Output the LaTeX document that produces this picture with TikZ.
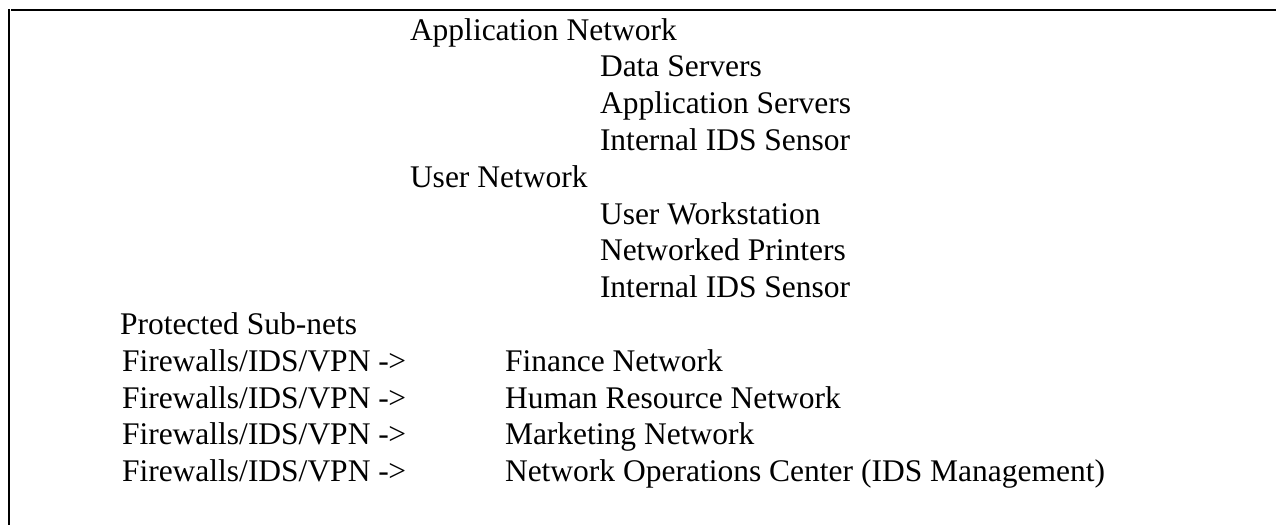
\documentclass[tikz,border=0pt]{standalone}
\usepackage{fontspec}
\setmainfont{Liberation Serif}
\begin{document}
\begin{tikzpicture}[x=1pt,y=-1pt,
  txt/.style={anchor=base west,inner sep=0pt,outer sep=0pt,font=\fontsize{31.5}{36.8}\selectfont},
  frame/.style={line width=2pt,black}]
\useasboundingbox (0,0) rectangle (1276,525);
\fill[white] (0,0) rectangle (1276,525);
% frame (left and top only)
\coordinate (lt) at (9,9);
\coordinate (lb) at (9,525);
\coordinate (tl) at (11,10);
\coordinate (tr) at (1276,10);
\draw[frame] (lt) -- (lb);
\draw[frame] (tl) -- (tr);
% text rows
\node[txt] (appnet) at (410,40) {Application Network};
\node[txt] (data) at (600,76.8) {Data Servers};
\node[txt] (appsrv) at (600,113.6) {Application Servers};
\node[txt] (ids1) at (600,150.4) {Internal IDS Sensor};
\node[txt] (usernet) at (410,187.2) {User Network};
\node[txt] (uws) at (600,224) {User Workstation};
\node[txt] (prn) at (600,260.8) {Networked Printers};
\node[txt] (ids2) at (600,297.6) {Internal IDS Sensor};
\node[txt] (prot) at (120,334.4) {Protected Sub-nets};
\node[txt] (fw1) at (122,371.2) {Firewalls/IDS/VPN -\kern-0.5pt>};
\node[txt] (fin) at (505,371.2) {Finance Network};
\node[txt] (fw2) at (122,408) {Firewalls/IDS/VPN -\kern-0.5pt>};
\node[txt] (hr) at (505,408) {Human Resource Network};
\node[txt] (fw3) at (122,444.8) {Firewalls/IDS/VPN -\kern-0.5pt>};
\node[txt] (mkt) at (505,444.8) {Marketing Network};
\node[txt] (fw4) at (122,481.6) {Firewalls/IDS/VPN -\kern-0.5pt>};
\node[txt] (noc) at (505,481.6) {Network Operations Center (IDS Management)};
\end{tikzpicture}
\end{document}
